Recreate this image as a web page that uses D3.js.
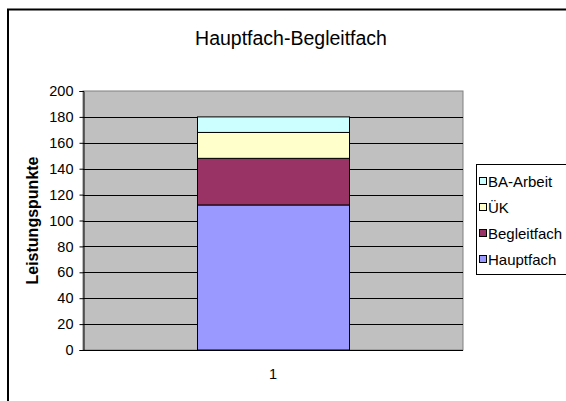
<!DOCTYPE html>
<html><head><meta charset="utf-8">
<script src="https://cdn.jsdelivr.net/npm/d3@7"></script>
<style>body{margin:0;background:#fff}svg{display:block;font-family:"Liberation Sans",Arial,sans-serif}</style>
</head><body><svg width="566" height="401"></svg>
<script>
const categories = ["1"];
const seriesNames = ["Hauptfach", "Begleitfach", "ÜK", "BA-Arbeit"];
const hauptfach = [112];
const begleitfach = [36];
const uek = [20];
const baArbeit = [12];
const yTicks = [0, 20, 40, 60, 80, 100, 120, 140, 160, 180, 200];
const colors = ["#9999FF", "#993366", "#FFFFCC", "#CCFFFF"];

const svg = d3.select("svg");
// outer chart border
svg.append("rect").attr("x", 8).attr("y", 9.5).attr("width", 600).attr("height", 420)
  .attr("fill", "#fff").attr("stroke", "#000").attr("stroke-width", 2);

const plot = {l: 83, r: 463, t: 91, b: 350};
const x = d3.scaleBand().domain(categories).range([plot.l, plot.r]).paddingInner(0).paddingOuter(0.75);
const y = d3.scaleLinear().domain([0, 200]).range([plot.b, plot.t]);

svg.append("rect").attr("x", plot.l).attr("y", plot.t).attr("width", plot.r - plot.l).attr("height", plot.b - plot.t)
  .attr("fill", "#C0C0C0").attr("stroke", "#808080").attr("stroke-width", 1);

// gridlines
svg.append("g").selectAll("line").data(yTicks.filter(d => d > 0 && d < 200)).join("line")
  .attr("x1", plot.l).attr("x2", plot.r)
  .attr("y1", d => Math.round(y(d)) + 0.5).attr("y2", d => Math.round(y(d)) + 0.5)
  .attr("stroke", "#000").attr("stroke-width", 1);

// stacked data
const rows = categories.map((c, i) => ({cat: c, "Hauptfach": hauptfach[i], "Begleitfach": begleitfach[i], "ÜK": uek[i], "BA-Arbeit": baArbeit[i]}));
const stack = d3.stack().keys(seriesNames)(rows);
svg.append("g").selectAll("g").data(stack).join("g").attr("fill", (d, i) => colors[i])
  .selectAll("rect").data(d => d).join("rect")
  .attr("x", d => x(d.data.cat) + 0.5)
  .attr("width", x.bandwidth())
  .attr("y", d => y(d[1]))
  .attr("height", d => y(d[0]) - y(d[1]))
  .attr("stroke", "#000").attr("stroke-width", 1);

// y axis
const yAxis = d3.axisLeft(y).tickValues(yTicks).tickSize(4).tickPadding(6);
const ya = svg.append("g").attr("transform", `translate(${plot.l + 0.5},0)`).call(yAxis);
ya.select(".domain").attr("stroke", "#000");
ya.selectAll(".tick line").attr("stroke", "#000");
ya.selectAll(".tick text").attr("font-size", 14.5).attr("fill", "#000").attr("font-family", "Liberation Sans, Arial, sans-serif");

// x axis
const xAxis = d3.axisBottom(x).tickSize(0).tickPadding(18);
const xa = svg.append("g").attr("transform", `translate(0,${plot.b + 0.5})`).call(xAxis);
xa.select(".domain").attr("d", `M${plot.l},0H${plot.r}`).attr("stroke", "#000");
xa.selectAll(".tick text").attr("font-size", 14.5).attr("fill", "#000").attr("font-family", "Liberation Sans, Arial, sans-serif");

// title
svg.append("text").attr("x", 291).attr("y", 45).attr("text-anchor", "middle")
  .attr("font-size", 19.5).text("Hauptfach-Begleitfach");

// y label
svg.append("text").attr("transform", `translate(38,${(plot.t + plot.b) / 2}) rotate(-90)`)
  .attr("text-anchor", "middle").attr("font-size", 16).attr("font-weight", "bold")
  .text("Leistungspunkte");

// legend
const lg = svg.append("g");
lg.append("rect").attr("x", 476.5).attr("y", 164.5).attr("width", 120).attr("height", 110)
  .attr("fill", "#fff").attr("stroke", "#000");
const legendItems = seriesNames.map((n, i) => ({name: n, color: colors[i]})).reverse();
const ly = d3.scalePoint().domain(legendItems.map(d => d.name)).range([181, 259]);
const li = lg.selectAll("g.item").data(legendItems).join("g").attr("class", "item")
  .attr("transform", d => `translate(0,${ly(d.name)})`);
li.append("rect").attr("x", 479.5).attr("y", -3.5).attr("width", 7).attr("height", 7)
  .attr("fill", d => d.color).attr("stroke", "#000");
li.append("text").attr("x", 488).attr("y", 5.5).attr("font-size", 15).text(d => d.name);
</script></body></html>
